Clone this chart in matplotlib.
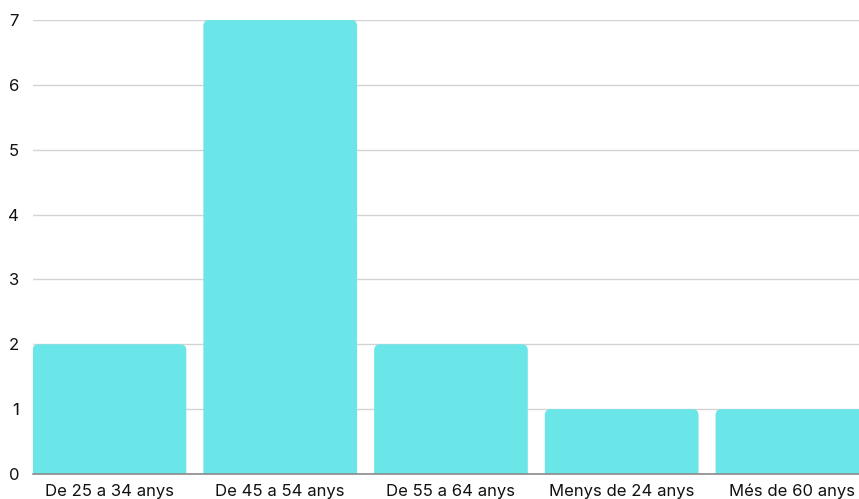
import numpy as np
import matplotlib
matplotlib.use("Agg")
import matplotlib.pyplot as plt
from matplotlib.path import Path
from matplotlib.patches import PathPatch

# data
categories = ["De 25 a 34 anys", "De 45 a 54 anys", "De 55 a 64 anys",
              "Menys de 24 anys", "Més de 60 anys"]
counts = [2, 7, 2, 1, 1]
yticks = [0, 1, 2, 3, 4, 5, 6, 7]

bar_color = "#6ae5e8"

plt.rcParams['font.family'] = ['Inter', 'DejaVu Sans']

fig = plt.figure(figsize=(8.59, 4.99), dpi=100)
ax = fig.add_axes([33 / 859, 1 - 474 / 499, 1 - 33 / 859, (474 - 20) / 499])

x = np.arange(len(categories))
bars = ax.bar(x, counts, width=0.9, color=bar_color, zorder=2)

ax.set_xlim(-0.448, 4.39)
ax.set_ylim(0, 7)

# swap plain rectangles for ones with rounded top corners
fig.canvas.draw()
px_x = ax.transData.transform((1, 0))[0] - ax.transData.transform((0, 0))[0]
px_y = ax.transData.transform((0, 1))[1] - ax.transData.transform((0, 0))[1]
r = 6
rx, ry = r / px_x, r / px_y
for b in bars:
    x0, y0 = b.get_x(), b.get_y()
    w, h = b.get_width(), b.get_height()
    x1, y1 = x0 + w, y0 + h
    verts = [(x0, y0), (x0, y1 - ry), (x0, y1), (x0 + rx, y1),
             (x1 - rx, y1), (x1, y1), (x1, y1 - ry), (x1, y0), (x0, y0)]
    codes = [Path.MOVETO, Path.LINETO, Path.CURVE3, Path.CURVE3,
             Path.LINETO, Path.CURVE3, Path.CURVE3, Path.LINETO, Path.CLOSEPOLY]
    ax.add_patch(PathPatch(Path(verts, codes), facecolor=bar_color,
                           edgecolor="none", zorder=2))
    b.remove()

ax.set_yticks(yticks)
ax.set_xticks(x)
ax.set_xticklabels(categories)
ax.yaxis.grid(True, color="#d3d3d3", linewidth=1)
ax.set_axisbelow(True)
for s in ["top", "right", "left"]:
    ax.spines[s].set_visible(False)
ax.spines["bottom"].set_color("#8a8a8a")
ax.spines["bottom"].set_linewidth(1.2)
ax.tick_params(axis="both", length=0, labelsize=12, colors="#111111")
ax.tick_params(axis="y", pad=10)
ax.tick_params(axis="x", pad=7)

fig.savefig("out.png", dpi=100)
